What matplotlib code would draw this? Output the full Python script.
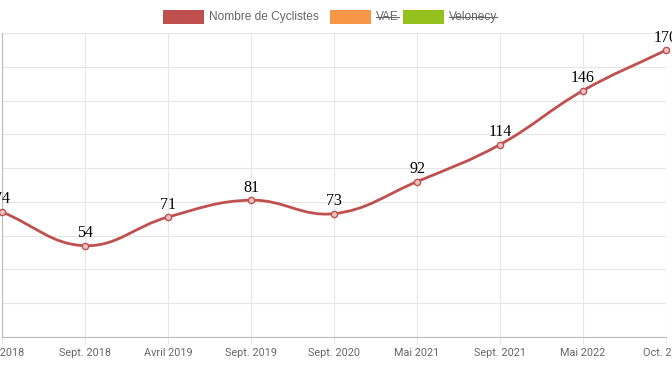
"""Nombre de cyclistes par campagne de comptage (courbe lissée)."""
import numpy as np
import matplotlib
matplotlib.use("Agg")
import matplotlib.pyplot as plt
from matplotlib.path import Path
from matplotlib.patches import PathPatch, Rectangle
from matplotlib.lines import Line2D

# données
labels = ["Mai 2018", "Sept. 2018", "Avril 2019", "Sept. 2019", "Sept. 2020",
          "Mai 2021", "Sept. 2021", "Mai 2022", "Oct. 2022"]
cyclistes = [74, 54, 71, 81, 73, 92, 114, 146, 170]
series = ["Nombre de Cyclistes", "VAE", "Velonecy"]
series_colors = ["#c0504d", "#f79646", "#95c11f"]
series_hidden = [False, True, True]

RED = "#c0504d"
GRID = "#e6e6e6"
TXT = "#666666"

W, H = 672, 372
fig = plt.figure(figsize=(W / 100, H / 100), dpi=100)
ax = fig.add_axes([2 / W, (H - 336.7) / H, 664 / W, (336.7 - 33.3) / H])

x = np.arange(len(labels))
ax.set_xlim(0, len(labels) - 1)
ax.set_ylim(0, 180)
ax.set_xticks(x)
ax.set_xticklabels(labels, fontsize=7.8, color=TXT, family="Roboto")
ax.set_yticks(np.arange(0, 181, 20))
ax.set_yticklabels([])
ax.tick_params(axis="y", length=0)
ax.tick_params(axis="x", length=5, color=GRID, pad=3)
ax.grid(True, color=GRID, linewidth=0.8)
ax.set_axisbelow(True)
for s in ["top", "right"]:
    ax.spines[s].set_visible(False)
ax.spines["left"].set_color("#bbbbbb")
ax.spines["bottom"].set_color("#bbbbbb")
ax.spines["left"].set_linewidth(0.8)
ax.spines["bottom"].set_linewidth(0.8)

# courbe façon Chart.js (tension 0.4), points de contrôle en pixels
pts = ax.transData.transform(np.column_stack([x, cyclistes]))
t = 0.4
n = len(pts)
cp_prev = np.zeros_like(pts)
cp_next = np.zeros_like(pts)
for i in range(n):
    p0 = pts[i - 1] if i > 0 else pts[i]
    p1 = pts[i]
    p2 = pts[i + 1] if i < n - 1 else pts[i]
    d01 = np.hypot(*(p1 - p0))
    d12 = np.hypot(*(p2 - p1))
    tot = d01 + d12
    s01 = d01 / tot if tot else 0
    s12 = d12 / tot if tot else 0
    cp_prev[i] = p1 - t * s01 * (p2 - p0)
    cp_next[i] = p1 + t * s12 * (p2 - p0)
inv = ax.transData.inverted()
verts = [inv.transform(pts[0])]
codes = [Path.MOVETO]
for i in range(n - 1):
    verts += [inv.transform(cp_next[i]), inv.transform(cp_prev[i + 1]),
              inv.transform(pts[i + 1])]
    codes += [Path.CURVE4] * 3
ax.add_patch(PathPatch(Path(verts, codes), facecolor="none", edgecolor=RED,
                       linewidth=2.0, capstyle="round", zorder=3, clip_on=False))
ax.plot(x, cyclistes, linestyle="none", marker="o", ms=4.5, mfc="#eec4c3",
        mec=RED, mew=1.0, zorder=4, clip_on=False)

for xi, v in zip(x, cyclistes):
    ax.annotate(str(v), (xi, v), xytext=(0, 9), textcoords="offset points",
                ha="center", va="center", fontsize=11.5, family="Liberation Serif",
                color="black", annotation_clip=False)

# légende dessinée à la main (séries masquées barrées)
box_x = [163, 330, 403]
box_w = 41
ly = 17
for bx, name, col, hidden in zip(box_x, series, series_colors, series_hidden):
    fig.patches.append(Rectangle((bx / W, (H - ly - 7) / H), box_w / W, 14 / H,
                                 transform=fig.transFigure, facecolor=col,
                                 edgecolor="none"))
    txt = fig.text((bx + box_w + 5) / W, (H - ly) / H, name, fontsize=8.6,
                   color=TXT, va="center", ha="left", family="Liberation Sans")
    if hidden:
        fig.canvas.draw()
        bb = txt.get_window_extent()
        fig.add_artist(Line2D([bb.x0 / W, bb.x1 / W], [(H - ly) / H] * 2,
                              transform=fig.transFigure, color=TXT, linewidth=0.8))

fig.savefig("out.png", dpi=100)
